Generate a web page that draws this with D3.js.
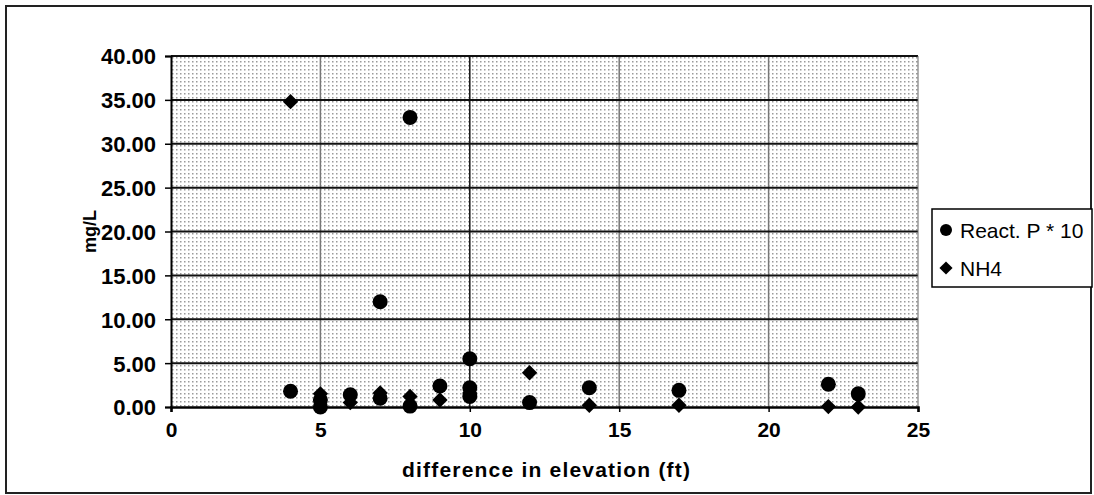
<!DOCTYPE html>
<html>
<head>
<meta charset="utf-8">
<script src="https://cdn.jsdelivr.net/npm/d3@7"></script>
<style>
  body { margin: 0; background: #fff; }
  text { font-family: "Liberation Sans", Arial, sans-serif; fill: #000; }
</style>
</head>
<body>
<div id="chart"></div>
<script>
// React. P * 10 (circles)
var pX = [4, 5, 5, 6, 7, 7, 8, 8, 9, 10, 10, 10, 12, 14, 17, 22, 23];
var pY = [1.8, 0.0, 0.8, 1.4, 12.0, 1.0, 33.0, 0.1, 2.4, 5.5, 2.2, 1.2, 0.5, 2.2, 1.9, 2.6, 1.5];
// NH4 (diamonds)
var nX = [4, 5, 6, 7, 8, 9, 10, 12, 14, 17, 22, 23];
var nY = [34.8, 1.5, 0.5, 1.6, 1.2, 0.8, 1.6, 3.9, 0.2, 0.2, 0.05, 0.0];

var xTicks = [0, 5, 10, 15, 20, 25];
var yTicks = [0, 5, 10, 15, 20, 25, 30, 35, 40];
var seriesNames = ["React. P * 10", "NH4"];

var W = 1094, H = 495;
var margin = {top: 56, right: 176, bottom: 88, left: 171};
var width = W - margin.left - margin.right,
    height = H - margin.top - margin.bottom;

var svg = d3.select("#chart").append("svg")
  .attr("width", W)
  .attr("height", H);

// outer frame
svg.append("rect")
  .attr("x", 6).attr("y", 6)
  .attr("width", 1085).attr("height", 487)
  .attr("fill", "none")
  .attr("stroke", "#222")
  .attr("stroke-width", 2);

var defs = svg.append("defs");
var pat = defs.append("pattern")
  .attr("id", "dots")
  .attr("width", 4).attr("height", 4)
  .attr("patternUnits", "userSpaceOnUse");
pat.append("rect").attr("width", 4).attr("height", 4).attr("fill", "#fff");
pat.append("rect").attr("x", 1).attr("y", 1).attr("width", 1.5).attr("height", 1.5).attr("fill", "#9a9a9a");

var g = svg.append("g")
  .attr("transform", "translate(" + margin.left + "," + margin.top + ")");

var x = d3.scaleLinear().domain([0, 25]).range([0, width]);
var y = d3.scaleLinear().domain([0, 40]).range([height, 0]);

g.append("rect")
  .attr("width", width).attr("height", height)
  .attr("fill", "url(#dots)");

// vertical grid
g.selectAll(".vgrid")
  .data(xTicks.slice(1, -1))
  .enter().append("line")
  .attr("x1", d => x(d)).attr("x2", d => x(d))
  .attr("y1", 0).attr("y2", height)
  .attr("stroke", d => d == 10 ? "#111" : "#777")
  .attr("stroke-width", 1.5);

// horizontal grid
g.selectAll(".hgrid")
  .data(yTicks.slice(1))
  .enter().append("line")
  .attr("x1", 0).attr("x2", width)
  .attr("y1", d => y(d)).attr("y2", d => y(d))
  .attr("stroke", "#111")
  .attr("stroke-width", 2);

// right edge of plot
g.append("line")
  .attr("x1", width).attr("x2", width)
  .attr("y1", 0).attr("y2", height)
  .attr("stroke", "#666").attr("stroke-width", 1);

var xAxis = d3.axisBottom(x).tickValues(xTicks).tickSize(5).tickPadding(10)
  .tickFormat(d3.format("d"));
var yAxis = d3.axisLeft(y).tickValues(yTicks).tickSize(6).tickPadding(9)
  .tickFormat(d3.format(".2f"));

var gx = g.append("g")
  .attr("transform", "translate(0," + height + ")")
  .call(xAxis);
gx.select(".domain").attr("stroke", "#000").attr("stroke-width", 2.5);
gx.selectAll(".tick line").attr("stroke", "#000").attr("stroke-width", 1.5);
gx.selectAll("text")
  .style("font-size", "21px").style("font-weight", "bold")
  .attr("fill", "#000");

var gy = g.append("g").call(yAxis);
gy.select(".domain").attr("stroke", "#000").attr("stroke-width", 2);
gy.selectAll(".tick line").attr("stroke", "#000").attr("stroke-width", 1.5);
gy.selectAll("text")
  .style("font-size", "22px").style("font-weight", "bold")
  .attr("dy", "0.36em")
  .attr("fill", "#000");

// points
var diamond = d3.symbol().type(d3.symbolDiamond2).size(150);

g.selectAll(".pt")
  .data(pX.map((d, i) => [d, pY[i]]))
  .enter().append("circle")
  .attr("cx", d => x(d[0]))
  .attr("cy", d => y(d[1]))
  .attr("r", 7.5)
  .attr("fill", "#000");

g.selectAll(".nh")
  .data(nX.map((d, i) => [d, nY[i]]))
  .enter().append("path")
  .attr("d", diamond)
  .attr("transform", d => "translate(" + x(d[0]) + "," + y(d[1]) + ")")
  .attr("fill", "#000");

// axis titles
svg.append("text")
  .attr("x", 402)
  .attr("y", 477)
  .attr("textLength", 288)
  .style("font-size", "21px").style("font-weight", "bold")
  .text("difference in elevation (ft)");

svg.append("text")
  .attr("transform", "translate(90," + (margin.top + height / 2) + ") rotate(-90)")
  .attr("text-anchor", "middle")
  .attr("dy", "0.36em")
  .style("font-size", "18px").style("font-weight", "bold")
  .text("mg/L");

// legend
var lg = svg.append("g").attr("transform", "translate(932,209)");
lg.append("rect")
  .attr("width", 160).attr("height", 78)
  .attr("fill", "#fff").attr("stroke", "#000").attr("stroke-width", 1.5);

lg.append("circle").attr("cx", 14).attr("cy", 21).attr("r", 6).attr("fill", "#000");
lg.append("path").attr("d", d3.symbol().type(d3.symbolDiamond2).size(110))
  .attr("transform", "translate(14,59)").attr("fill", "#000");

lg.selectAll(".lt")
  .data(seriesNames)
  .enter().append("text")
  .attr("x", 28)
  .attr("y", (d, i) => 21 + i * 38)
  .attr("dy", "0.36em")
  .style("font-size", "21px")
  .text(d => d);
</script>
</body>
</html>
